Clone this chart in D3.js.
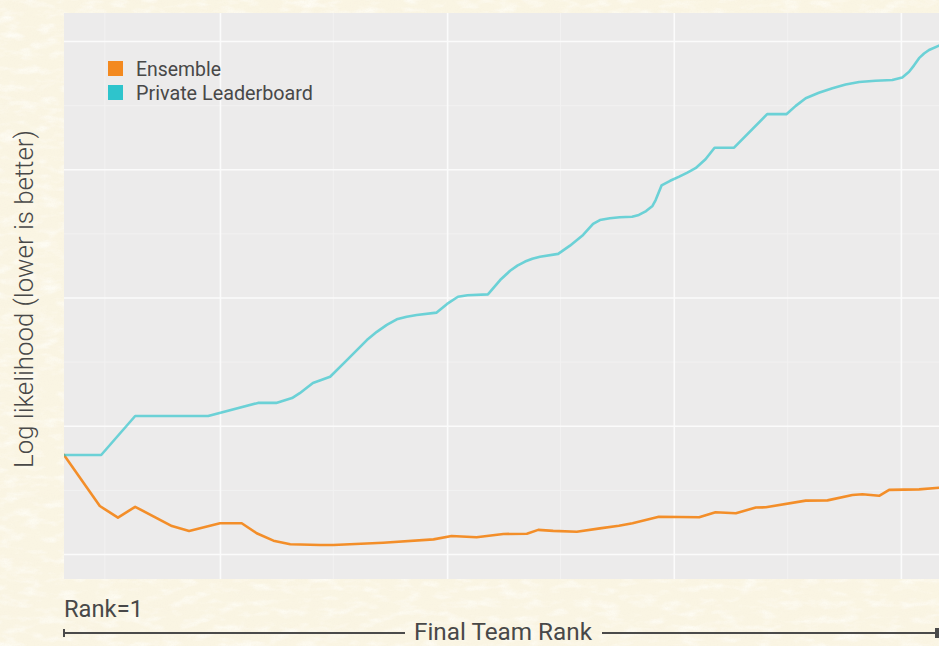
<!DOCTYPE html>
<html>
<head>
<meta charset="utf-8">
<script src="https://cdn.jsdelivr.net/npm/d3@7"></script>
<style>
  html, body { margin: 0; padding: 0; background: #f9f3de; }
  svg { display: block; }
  text { font-family: Roboto, "Noto Sans", sans-serif; fill: #484848; }
</style>
</head>
<body>
<svg id="chart" width="939" height="646"></svg>
<script>
// Series: [final team rank, log likelihood]
const ensembleSeries = [
  [1, 0.4386], [8.9, 0.4187], [12.9, 0.4142], [16.7, 0.4184], [24.8, 0.4109],
  [28.6, 0.4090], [35.4, 0.4120], [40.2, 0.4120], [43.5, 0.4081], [47.2, 0.4052],
  [50.9, 0.4038], [57.5, 0.4035], [60.4, 0.4035], [71.4, 0.4044], [82.5, 0.4057],
  [86.5, 0.4070], [92.0, 0.4065], [97.9, 0.4078], [103.1, 0.4079], [105.6, 0.4094],
  [108.9, 0.4090], [114.1, 0.4087], [119.2, 0.4100], [123.4, 0.4110], [126.4, 0.4120],
  [132.2, 0.4145], [141.1, 0.4143], [144.7, 0.4163], [149.2, 0.4159], [153.6, 0.4181],
  [155.8, 0.4182], [164.6, 0.4208], [169.4, 0.4209], [174.9, 0.4230], [177.1, 0.4233],
  [180.8, 0.4227], [183.0, 0.4250], [189.6, 0.4252], [194, 0.4258]
];
const leaderboardSeries = [
  [1, 0.4386], [9.2, 0.4386], [16.7, 0.4538], [32.8, 0.4538], [43.8, 0.4589],
  [47.8, 0.4589], [51.3, 0.4608], [53.0, 0.4627], [55.9, 0.4667], [59.7, 0.4691],
  [63.4, 0.4756], [67.8, 0.4834], [70.0, 0.4866], [72.2, 0.4893], [74.4, 0.4915],
  [76.6, 0.4925], [78.8, 0.4932], [83.2, 0.4941], [85.5, 0.4975], [87.9, 0.5003],
  [90.0, 0.5009], [94.5, 0.5012], [97.2, 0.5068], [99.4, 0.5104], [101.0, 0.5124],
  [102.7, 0.5140], [104.3, 0.5151], [106.0, 0.5159], [110.0, 0.5170], [112.6, 0.5202],
  [115.5, 0.5244], [117.7, 0.5287], [119.2, 0.5302], [121.4, 0.5309], [123.6, 0.5313],
  [126.3, 0.5315], [127.8, 0.5322], [129.4, 0.5337], [130.8, 0.5357], [131.5, 0.5380],
  [132.8, 0.5437], [134.7, 0.5455], [136.7, 0.5471], [138.5, 0.5487], [140.3, 0.5504],
  [142.5, 0.5539], [144.5, 0.5584], [148.8, 0.5584], [156.1, 0.5715], [160.4, 0.5715],
  [162.4, 0.5747], [164.6, 0.5777], [167.5, 0.5798], [170.5, 0.5816], [173.4, 0.5830],
  [176.4, 0.5840], [180.0, 0.5845], [183.7, 0.5848], [185.9, 0.5858], [187.4, 0.5880],
  [188.5, 0.5905], [189.6, 0.5933], [190.7, 0.5951], [191.8, 0.5965], [194, 0.5982]
];
const seriesNames = ["Ensemble", "Private Leaderboard"];
const seriesColors = ["#f3891f", "#2ec4cc"];

const xDomain = [1, 194];
const yDomain = [0.39025, 0.61091];
const xMajorBreaks = [35.4, 85.5, 135.5, 185.6];
const xMinorBreaks = [9.9, 60.3, 110.4, 160.5];
const yMajorBreaks = [0.40, 0.45, 0.50, 0.55, 0.60];
const yMinorBreaks = [0.425, 0.475, 0.525, 0.575];

const yTitle = "Log likelihood (lower is better)";
const firstRankLabel = "Rank=1";
const xTitle = "Final Team Rank";

const W = 939, H = 646;
const panel = { left: 64, right: 939, top: 13, bottom: 579 };

const svg = d3.select("#chart");
const defs = svg.append("defs");

// Parchment paper texture
const paper = defs.append("filter").attr("id", "paper")
  .attr("filterUnits", "userSpaceOnUse")
  .attr("x", 0).attr("y", 0).attr("width", W).attr("height", H);
paper.append("feFlood").attr("flood-color", "#faf5e3").attr("result", "base");
paper.append("feTurbulence").attr("type", "fractalNoise")
  .attr("baseFrequency", "0.018 0.045").attr("numOctaves", 4).attr("seed", 11).attr("result", "n1");
paper.append("feColorMatrix").attr("in", "n1").attr("type", "matrix")
  .attr("values", "0 0 0 0 0.95  0 0 0 0 0.90  0 0 0 0 0.76  1.4 0 0 0 -0.7")
  .attr("result", "blotch");
paper.append("feTurbulence").attr("type", "fractalNoise")
  .attr("baseFrequency", "0.05 0.12").attr("numOctaves", 3).attr("seed", 4).attr("result", "n3");
paper.append("feColorMatrix").attr("in", "n3").attr("type", "matrix")
  .attr("values", "0 0 0 0 1  0 0 0 0 0.99  0 0 0 0 0.94  0 2.0 0 0 -0.95")
  .attr("result", "light");
paper.append("feTurbulence").attr("type", "fractalNoise")
  .attr("baseFrequency", "0.7").attr("numOctaves", 2).attr("seed", 2).attr("result", "n2");
paper.append("feColorMatrix").attr("in", "n2").attr("type", "matrix")
  .attr("values", "0 0 0 0 0.89  0 0 0 0 0.84  0 0 0 0 0.72  0.6 0 0 0 -0.26")
  .attr("result", "grain");
const merge = paper.append("feMerge");
merge.append("feMergeNode").attr("in", "base");
merge.append("feMergeNode").attr("in", "blotch");
merge.append("feMergeNode").attr("in", "light");
merge.append("feMergeNode").attr("in", "grain");

svg.append("rect").attr("width", W).attr("height", H).attr("filter", "url(#paper)");

defs.append("clipPath").attr("id", "panelClip").append("rect")
  .attr("x", panel.left).attr("y", panel.top)
  .attr("width", panel.right - panel.left).attr("height", panel.bottom - panel.top);

const x = d3.scaleLinear().domain(xDomain).range([panel.left, panel.right]);
const y = d3.scaleLinear().domain(yDomain).range([panel.bottom, panel.top]);

// Panel background
svg.append("rect")
  .attr("x", panel.left).attr("y", panel.top)
  .attr("width", panel.right - panel.left).attr("height", panel.bottom - panel.top)
  .attr("fill", "#ecebeb");

// Gridlines drawn through axes with full-length ticks
const grid = svg.append("g").attr("clip-path", "url(#panelClip)");
function gridAxis(axis, breaks, transform, color, width) {
  const g = grid.append("g").attr("transform", transform)
    .call(axis.tickValues(breaks).tickFormat("").tickSizeOuter(0));
  g.select(".domain").remove();
  g.selectAll(".tick line").attr("stroke", color).attr("stroke-width", width);
}
gridAxis(d3.axisBottom(x).tickSize(-(panel.bottom - panel.top)), xMinorBreaks,
  `translate(0,${panel.bottom})`, "#f2f1f1", 1);
gridAxis(d3.axisLeft(y).tickSize(-(panel.right - panel.left)), yMinorBreaks,
  `translate(${panel.left},0)`, "#f2f1f1", 1);
gridAxis(d3.axisBottom(x).tickSize(-(panel.bottom - panel.top)), xMajorBreaks,
  `translate(0,${panel.bottom})`, "#fbfbfb", 1.6);
gridAxis(d3.axisLeft(y).tickSize(-(panel.right - panel.left)), yMajorBreaks,
  `translate(${panel.left},0)`, "#fbfbfb", 1.6);

// Lines
const line = d3.line().x(d => x(d[0])).y(d => y(d[1])).curve(d3.curveLinear);
const lines = svg.append("g").attr("clip-path", "url(#panelClip)");
[ensembleSeries, leaderboardSeries].forEach((s, i) => {
  lines.append("path").datum(s)
    .attr("d", line)
    .attr("fill", "none")
    .attr("stroke", seriesColors[i])
    .attr("stroke-opacity", i === 1 ? 0.68 : 0.95)
    .attr("stroke-width", 2.6)
    .attr("stroke-linejoin", "round")
    .attr("stroke-linecap", "round");
});

// Scale a text element's font size so it spans a given width
function fitWidth(sel, target) {
  const node = sel.node();
  const fs = parseFloat(sel.attr("font-size"));
  const w = node.getComputedTextLength();
  if (w > 0) sel.attr("font-size", (fs * target / w).toFixed(2));
  return sel;
}

// Legend
const legend = svg.append("g");
seriesNames.forEach((name, i) => {
  legend.append("rect")
    .attr("x", 108).attr("y", 61 + i * 24)
    .attr("width", 15).attr("height", 15)
    .attr("fill", seriesColors[i]);
  const t = legend.append("text")
    .attr("x", 136).attr("y", 76 + i * 24)
    .attr("font-size", 18)
    .attr("fill", "#4a4a4a")
    .text(name);
  fitWidth(t, i === 0 ? 85 : 177);
});

// Axis titles
const yt = svg.append("text")
  .attr("transform", "translate(33,299) rotate(-90)")
  .attr("text-anchor", "middle")
  .attr("font-size", 21)
  .attr("font-weight", 300)
  .attr("fill", "#4e4e4e")
  .text(yTitle);
fitWidth(yt, 338);

const rk = svg.append("text")
  .attr("x", 64).attr("y", 617)
  .attr("font-size", 22)
  .attr("fill", "#484848")
  .text(firstRankLabel);
fitWidth(rk, 79);

const xt = svg.append("text")
  .attr("x", 503).attr("y", 640)
  .attr("text-anchor", "middle")
  .attr("font-size", 22)
  .attr("fill", "#484848")
  .text(xTitle);
fitWidth(xt, 178);

// Rank arrow along the bottom
const arrowY = 633;
const arrow = svg.append("g").attr("stroke", "#4a4a4a").attr("stroke-width", 2);
arrow.append("line").attr("x1", 63).attr("x2", 405).attr("y1", arrowY).attr("y2", arrowY);
arrow.append("line").attr("x1", 602).attr("x2", 939).attr("y1", arrowY).attr("y2", arrowY);
arrow.append("line").attr("x1", 64).attr("x2", 64).attr("y1", arrowY - 4).attr("y2", arrowY + 4);
arrow.append("path").attr("d", `M936,${arrowY - 4}L939,${arrowY - 4}L939,${arrowY + 4}L936,${arrowY + 4}Z`)
  .attr("fill", "#4a4a4a");
</script>
</body>
</html>
